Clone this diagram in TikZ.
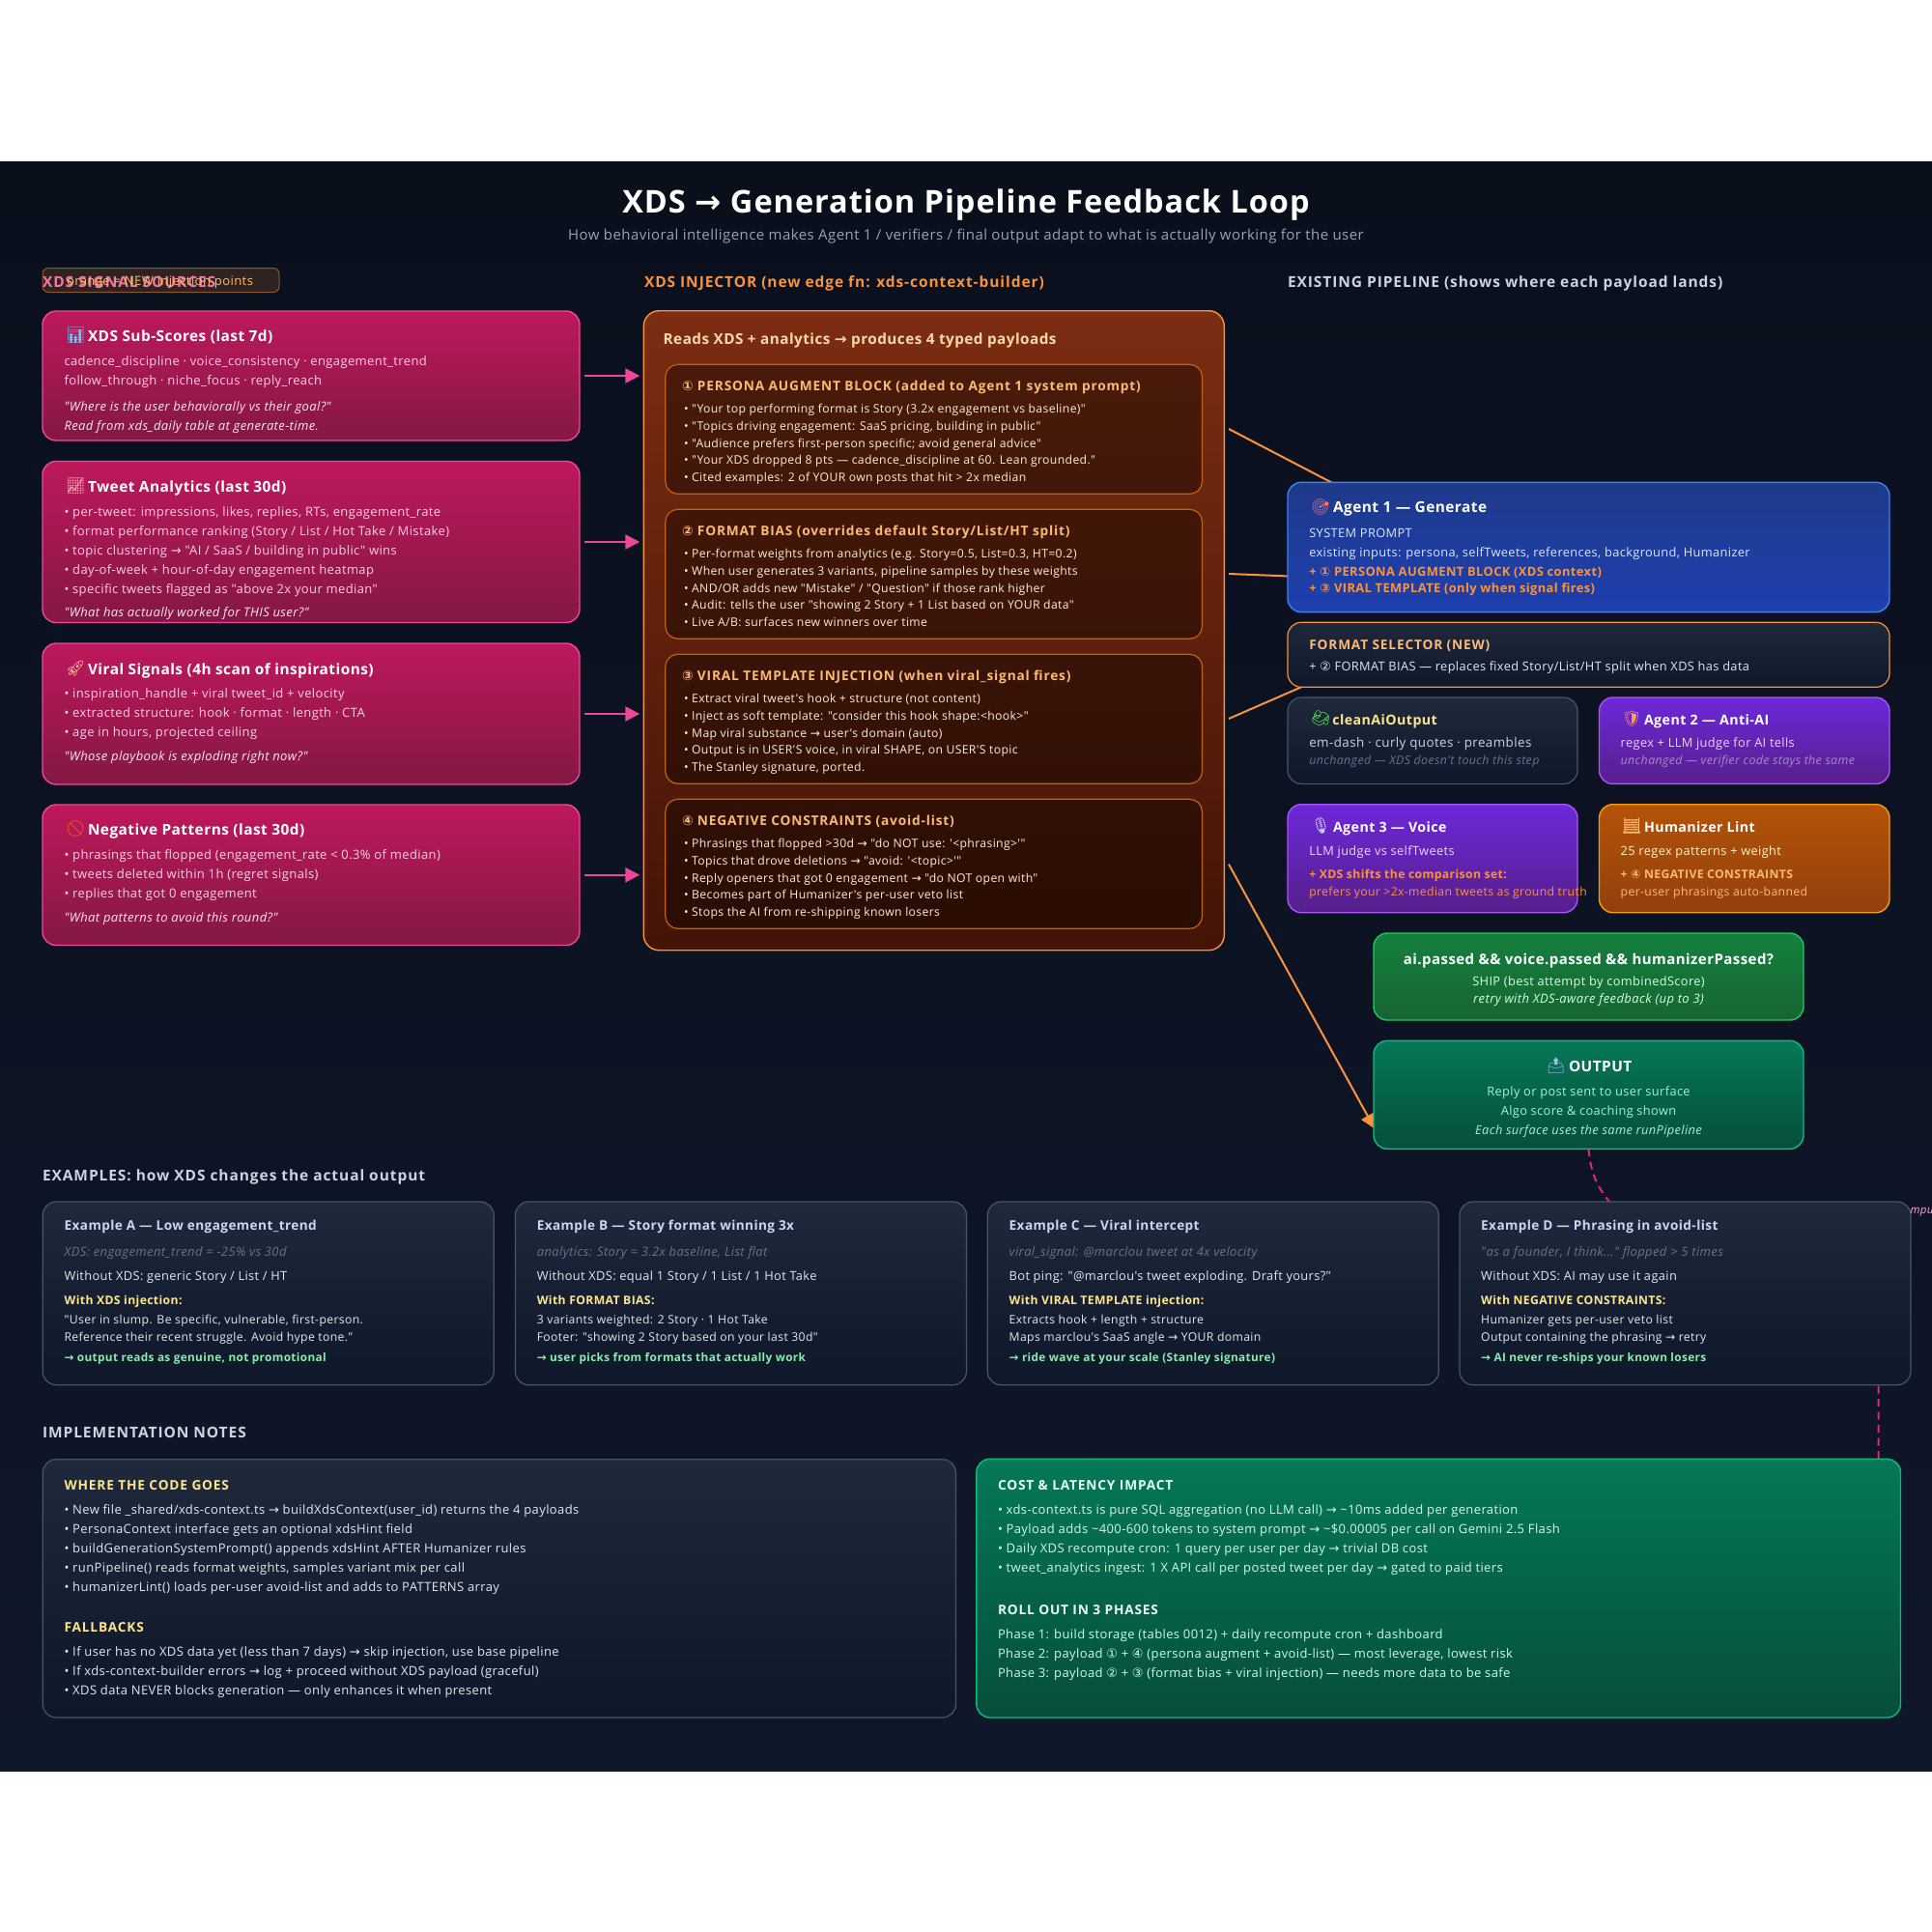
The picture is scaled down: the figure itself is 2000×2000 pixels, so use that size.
\documentclass[tikz,border=0pt]{standalone}
\usepackage{fontspec}
\usetikzlibrary{calc,arrows.meta,positioning}
\newfontfamily\uifont[LetterSpace=3]{Open Sans}
\newfontfamily\trackfont[LetterSpace=6]{Open Sans}
\newfontfamily\symfont{DejaVu Sans}
\newfontfamily\emojifont{Noto Emoji}
\newcommand{\fs}[1]{\fontsize{#1}{#1}\selectfont}
\newcommand{\ra}{{\symfont →}}
\newcommand{\cn}[1]{{\symfont #1}}
\pgfdeclarelayer{canvas}
\pgfdeclarelayer{wires}
\pgfsetlayers{canvas,wires,main}

\definecolor{pageTop}{HTML}{0A0F1C}
\definecolor{pageBot}{HTML}{0F172A}
\definecolor{pinkA}{HTML}{BE185D}
\definecolor{pinkB}{HTML}{831843}
\definecolor{pinkLine}{HTML}{EC4899}
\definecolor{pinkDash}{HTML}{DB2777}
\definecolor{orangeLine}{HTML}{FB923C}
\definecolor{orangeSoft}{HTML}{FDBA74}
\definecolor{slateA}{HTML}{1E293B}
\definecolor{slateB}{HTML}{0F172A}
\definecolor{slateLine}{HTML}{475569}
\definecolor{butter}{HTML}{FDE68A}
\definecolor{mint}{HTML}{86EFAC}
\definecolor{rustA}{HTML}{7C2D12}
\definecolor{rustB}{HTML}{431407}
\definecolor{rustLine}{HTML}{C2610F}
\definecolor{violetLine}{HTML}{A855F7}
\definecolor{violetA}{HTML}{6D28D9}
\definecolor{violetB}{HTML}{561F8C}
\definecolor{blueLine}{HTML}{3B82F6}
\definecolor{blueA}{HTML}{1E3A8A}
\definecolor{blueB}{HTML}{1E40AF}
\definecolor{amberLine}{HTML}{F59E0B}
\definecolor{amberA}{HTML}{B45309}
\definecolor{amberB}{HTML}{92400E}
\definecolor{leafLine}{HTML}{22C55E}
\definecolor{leafA}{HTML}{15803D}
\definecolor{leafB}{HTML}{166534}
\definecolor{tealLine}{HTML}{10B981}
\definecolor{tealA}{HTML}{047857}
\definecolor{tealB}{HTML}{064E3B}
\definecolor{bodyLight}{HTML}{E2E8F0}
\definecolor{pinkBody}{HTML}{FBCFE8}
\definecolor{pinkNote}{HTML}{FCE7F3}
\definecolor{rustBody}{HTML}{FFEDD5}
\definecolor{rustHead}{HTML}{FED7AA}
\definecolor{slateText}{HTML}{CBD5E1}
\definecolor{exTitle}{HTML}{CBD5F5}
\definecolor{dimText}{HTML}{64748B}
\definecolor{subText}{HTML}{94A3B8}
\definecolor{blueBody}{HTML}{DBEAFE}
\definecolor{violetBody}{HTML}{E9D5FF}
\definecolor{violetNote}{HTML}{A78BC8}
\definecolor{amberBody}{HTML}{FEF3C7}
\definecolor{tealBody}{HTML}{D1FAE5}
\definecolor{tealSoft}{HTML}{A7F3D0}
\definecolor{leafBody}{HTML}{DCFCE7}
\definecolor{tealHead}{HTML}{ECFDF5}
\definecolor{pinkHead}{HTML}{F472B6}
\definecolor{pinkSoft}{HTML}{F9A8D4}

\tikzset{
  card/.style={rectangle, rounded corners=14pt, inner sep=0pt, outer sep=0pt, anchor=north west, line width=1.4pt},
  pinkbox/.style={card, draw=pinkLine, top color=pinkA, bottom color=pinkB},
  injectbox/.style={card, rounded corners=16pt, draw=orangeLine, top color=rustA, bottom color=rustB},
  innerbox/.style={card, rounded corners=13pt, draw=rustLine, line width=1.2pt, fill=black, fill opacity=.38},
  slatebox/.style={card, draw=slateLine, line width=1.2pt, top color=slateA, bottom color=slateB},
  purplebox/.style={card, draw=violetLine, top color=violetA, bottom color=violetB},
  tealbox/.style={card, draw=tealLine, top color=tealA, bottom color=tealB},
  txt/.style={anchor=mid west, inner sep=0pt, outer sep=0pt, yshift=-2.6pt, font=\uifont\fs{13}, text=bodyLight},
  small/.style={txt, font=\uifont\fs{12.8}},
  inj/.style={txt, font=\uifont\fs{12.2}, text=rustBody},
  ital/.style={txt, font=\uifont\itshape\fs{13}},
  note/.style={txt, font=\uifont\itshape\fs{12.4}},
  head/.style={txt, yshift=-.6pt, font=\uifont\bfseries\fs{15.4}, text=white},
  cardhead/.style={head, font=\uifont\bfseries\fs{14.2}},
  smallhead/.style={txt, font=\trackfont\bfseries\fs{13.7}},
  accent/.style={txt, font=\uifont\bfseries\fs{12.2}},
  section/.style={txt, yshift=-.6pt, font=\trackfont\bfseries\fs{15.5}},
  centered/.style={anchor=mid},
  icon/.style={anchor=mid west, inner sep=0pt, yshift=-2.5pt, font=\emojifont\fs{16}},
  feed/.style={pinkLine, line width=2.4pt, -{Triangle[length=15pt,width=15pt]}, shorten <=5pt, shorten >=4pt},
  payload/.style={orangeLine, line width=2pt},
}

% name, x, first y, step, style, lines
\newcommand{\stacklines}[6]{
  \foreach \lineText [count=\i from 0] in {#6} {
    \node[#5] (#1\i) at (#2,{#3+\i*#4}) {\lineText};
  }
}
% name, x, y, icon colour, icon, title
\newcommand{\headrow}[6]{
  \node[icon, text=#4] (#1icon) at (#2,#3) {#5};
  \node[head] (#1title) at (#2+23,#3) {#6};
}

\begin{document}
\begin{tikzpicture}[x=1pt,y=-1pt]
\useasboundingbox (0,0) rectangle (2000,2000);
\begin{pgfonlayer}{canvas}
\fill[white] (0,0) rectangle (2000,2000);
\fill[top color=pageTop, bottom color=pageBot] (0,167) rectangle (2000,1833);
\end{pgfonlayer}

\node[txt, centered, yshift=-7pt, font=\uifont\bfseries\fs{32.5}, text=white] (maintitle) at (1000,209) {XDS \ra{} Generation Pipeline Feedback Loop};
\node[txt, centered, font=\uifont\fs{15}, text=subText] (subtitle) at (1000,244) {How behavioral intelligence makes Agent 1 / verifiers / final output adapt to what is actually working for the user};

% column headings
\node[section, text=pinkHead] (sourcehead) at (44,292) {XDS SIGNAL SOURCES};
\node[card, rounded corners=6pt, line width=1pt, draw=orangeLine, draw opacity=.5, fill=orangeLine, fill opacity=.15, minimum width=245, minimum height=25] (legend) at (44,277.5) {};
\node[txt, font=\uifont\fs{13.1}, text=orangeSoft] (legendtext) at (69,291) {orange = NEW injection points};
\node[section, text=orangeLine] (injecthead) at (667,292) {XDS INJECTOR (new edge fn: xds-context-builder)};
\node[section, text=slateText] (pipehead) at (1333,292) {EXISTING PIPELINE (shows where each payload lands)};

% signal sources
\foreach \nm/\yy/\hh in {subscores/322/134, analytics/477.5/167, viral/666/146, negative/833/145.5}
  \node[pinkbox, minimum width=556, minimum height=\hh] (\nm) at (44,\yy) {};

\headrow{sub}{68}{348}{cyan!60!white}{📊}{XDS Sub-Scores (last 7d)}
\stacklines{subl}{66.5}{373.7}{20}{txt, text=pinkBody}{cadence\_discipline · voice\_consistency · engagement\_trend, follow\_through · niche\_focus · reply\_reach}
\stacklines{subq}{66.5}{420.3}{20}{ital, text=pinkNote}{"Where is the user behaviorally vs their goal?", Read from xds\_daily table at generate-time.}

\headrow{ana}{68}{504}{red!30!white}{📈}{Tweet Analytics (last 30d)}
\stacklines{anal}{66.5}{529.3}{20}{txt, text=pinkBody}{{• per-tweet: impressions, likes, replies, RTs, engagement\_rate}, • format performance ranking (Story / List / Hot Take / Mistake), • topic clustering \ra{} "AI / SaaS / building in public" wins, • day-of-week + hour-of-day engagement heatmap, • specific tweets flagged as "above 2x your median"}
\node[ital, text=pinkNote] (anaq) at (66.5,633.7) {"What has actually worked for THIS user?"};

\headrow{vir}{68}{692.7}{orange!40!white}{🚀}{Viral Signals (4h scan of inspirations)}
\stacklines{virl}{66.5}{718}{20}{txt, text=pinkBody}{• inspiration\_handle + viral tweet\_id + velocity, • extracted structure: hook · format · length · CTA, {• age in hours, projected ceiling}}
\node[ital, text=pinkNote] (virq) at (66.5,782.7) {"Whose playbook is exploding right now?"};

\headrow{neg}{68}{859.3}{orange!80!red}{🚫}{Negative Patterns (last 30d)}
\stacklines{negl}{66.5}{884.7}{20}{txt, text=pinkBody}{• phrasings that flopped (engagement\_rate < 0.3\% of median), • tweets deleted within 1h (regret signals), • replies that got 0 engagement}
\node[ital, text=pinkNote] (negq) at (66.5,949.3) {"What patterns to avoid this round?"};

% injector
\node[injectbox, minimum width=601, minimum height=662] (injector) at (666.3,321.7) {};
\node[head, font=\uifont\bfseries\fs{15.3}, text=rustHead] (injectsub) at (686.7,350.7) {Reads XDS + analytics \ra{} produces 4 typed payloads};
\foreach \s/\yy in {1/377.3, 2/527.3, 3/677.3, 4/827.3}
  \node[innerbox, minimum width=555.7, minimum height=134] (payload\s) at (688.8,\yy) {};

\node[smallhead, text=orangeSoft] (p1title) at (706,400) {\cn{①} PERSONA AUGMENT BLOCK (added to Agent 1 system prompt)};
\stacklines{p1l}{708}{422.7}{17.8}{inj}{• "Your top performing format is Story (3.2x engagement vs baseline)", {• "Topics driving engagement: SaaS pricing, building in public"}, • "Audience prefers first-person specific; avoid general advice", • "Your XDS dropped 8 pts — cadence\_discipline at 60. Lean grounded.", • Cited examples: 2 of YOUR own posts that hit > 2x median}

\node[smallhead, text=orangeSoft] (p2title) at (706,550) {\cn{②} FORMAT BIAS (overrides default Story/List/HT split)};
\stacklines{p2l}{708}{572.7}{17.8}{inj}{{• Per-format weights from analytics (e.g. Story=0.5, List=0.3, HT=0.2)}, {• When user generates 3 variants, pipeline samples by these weights}, • AND/OR adds new "Mistake" / "Question" if those rank higher, • Audit: tells the user "showing 2 Story + 1 List based on YOUR data", • Live A/B: surfaces new winners over time}

\node[smallhead, text=orangeSoft] (p3title) at (706,700) {\cn{③} VIRAL TEMPLATE INJECTION (when viral\_signal fires)};
\stacklines{p3l}{708}{722.7}{17.8}{inj}{• Extract viral tweet's hook + structure (not content), • Inject as soft template: "consider this hook shape:<hook>", • Map viral substance \ra{} user's domain (auto), {• Output is in USER'S voice, in viral SHAPE, on USER'S topic}, {• The Stanley signature, ported.}}

\node[smallhead, text=orangeSoft] (p4title) at (706,850) {\cn{④} NEGATIVE CONSTRAINTS (avoid-list)};
\stacklines{p4l}{708}{872.7}{17.8}{inj}{• Phrasings that flopped >30d \ra{} "do NOT use: '<phrasing>'", • Topics that drove deletions \ra{} "avoid: '<topic>'", • Reply openers that got 0 engagement \ra{} "do NOT open with", • Becomes part of Humanizer's per-user veto list, • Stops the AI from re-shipping known losers}

% pipeline
\node[card, draw=blueLine, top color=blueA, bottom color=blueB, minimum width=623, minimum height=134.3] (agent1) at (1333,499.3) {};
\node[slatebox, draw=orangeLine, minimum width=623, minimum height=67] (selector) at (1333,644.3) {};
\node[slatebox, minimum width=300, minimum height=89.4] (cleanai) at (1333,722) {};
\node[purplebox, minimum width=300.5, minimum height=89.4] (agent2) at (1655.5,722) {};
\node[purplebox, minimum width=300, minimum height=112] (agent3) at (1333,832.7) {};
\node[card, draw=amberLine, top color=amberA, bottom color=amberB, minimum width=300.5, minimum height=112] (humanizer) at (1655.5,832.7) {};
\node[card, draw=leafLine, top color=leafA, bottom color=leafB, minimum width=445, minimum height=90] (gate) at (1422,966) {};
\node[tealbox, minimum width=445, minimum height=112] (output) at (1422,1077.3) {};

\headrow{ag1}{1357}{525.6}{red!55!white}{🎯}{Agent 1 — Generate}
\stacklines{ag1l}{1355.3}{551.3}{20}{small, text=blueBody}{SYSTEM PROMPT, {existing inputs: persona, selfTweets, references, background, Humanizer}}
\node[accent, font=\uifont\bfseries\fs{12.9}, text=orangeLine] (ag1a) at (1355.3,591.3) {+ \cn{①} PERSONA AUGMENT BLOCK (XDS context)};
\node[accent, font=\uifont\bfseries\fs{12.9}, text=orangeLine] (ag1b) at (1355.3,608.8) {+ \cn{③} VIRAL TEMPLATE (only when signal fires)};

\node[smallhead, text=orangeSoft] (seltitle) at (1355.3,667.3) {FORMAT SELECTOR (NEW)};
\node[small, text=bodyLight] (selline) at (1355.3,689.8) {+ \cn{②} FORMAT BIAS — replaces fixed Story/List/HT split when XDS has data};

\node[icon, text=green!60!white] (cleanicon) at (1357,744.8) {🧼};
\node[cardhead, text=butter] (cleantitle) at (1379.4,744.8) {cleanAiOutput};
\node[txt, font=\uifont\fs{13.4}, text=slateText] (cleanline) at (1355.3,769) {em-dash · curly quotes · preambles};
\node[note, text=dimText] (cleannote) at (1355.3,787) {unchanged — XDS doesn't touch this step};

\node[icon, text=orange!70!white] (ag2icon) at (1679,744.8) {🛡};
\node[cardhead] (ag2title) at (1702,744.8) {Agent 2 — Anti-AI};
\node[small, text=violetBody] (ag2line) at (1677.7,769) {regex + LLM judge for AI tells};
\node[note, text=violetNote] (ag2note) at (1677.7,787) {unchanged — verifier code stays the same};

\node[icon, text=slateText] (ag3icon) at (1357,856.3) {🎙};
\node[cardhead] (ag3title) at (1380,856.3) {Agent 3 — Voice};
\node[small, text=violetBody] (ag3line) at (1355.3,880.3) {LLM judge vs selfTweets};
\node[accent, text=orangeLine] (ag3a) at (1355.3,905) {+ XDS shifts the comparison set:};
\node[inj, text=orangeLine] (ag3b) at (1355.3,923) {prefers your >2x-median tweets as ground truth};

\node[icon, text=orangeSoft] (humicon) at (1679,856.3) {🧮};
\node[cardhead] (humtitle) at (1702,856.3) {Humanizer Lint};
\node[small, text=amberBody] (humline) at (1677.7,880.3) {25 regex patterns + weight};
\node[accent, text=orangeSoft] (huma) at (1677.7,905) {+ \cn{④} NEGATIVE CONSTRAINTS};
\node[inj, text=orangeSoft] (humb) at (1677.7,923) {per-user phrasings auto-banned};

\node[head, centered, font=\uifont\bfseries\fs{15}] (gatetitle) at (1644.5,992.7) {ai.passed \&\& voice.passed \&\& humanizerPassed?};
\node[small, centered, text=leafBody] (gateline) at (1644.5,1015.7) {SHIP (best attempt by combinedScore)};
\node[ital, centered, text=leafBody] (gatenote) at (1644.5,1033.7) {retry with XDS-aware feedback (up to 3)};

\node[icon, text=blue!30!white] (outicon) at (1600.5,1103.7) {📤};
\node[head] (outtitle) at (1624,1103.7) {OUTPUT};
\node[small, centered, text=tealSoft] (outa) at (1644.5,1129.3) {Reply or post sent to user surface};
\node[small, centered, text=tealSoft] (outb) at (1644.5,1149.3) {Algo score \& coaching shown};
\node[ital, centered, font=\uifont\itshape\fs{12.8}, text=tealSoft] (outc) at (1644.5,1169.3) {Each surface uses the same runPipeline};

% examples
\node[section, text=slateText] (examplehead) at (44,1216.7) {EXAMPLES: how XDS changes the actual output};
\foreach \nm/\xx in {exA/44.2, exB/533.4, exC/1022.3, exD/1511}
  \node[slatebox, minimum width=467, minimum height=189.7] (\nm) at (\xx,1244) {};

\foreach \nm/\xx/\a/\b/\c/\d/\e/\f/\g in {
  A/66.6/{Example A — Low engagement\_trend}/{XDS: engagement\_trend = -25\% vs 30d}/{Without XDS: generic Story / List / HT}/{With XDS injection:}/{"User in slump. Be specific, vulnerable, first-person.}/{Reference their recent struggle. Avoid hype tone."}/{\ra{} output reads as genuine, not promotional},
  B/555.8/{Example B — Story format winning 3x}/{analytics: Story = 3.2x baseline, List flat}/{Without XDS: equal 1 Story / 1 List / 1 Hot Take}/{With FORMAT BIAS:}/{3 variants weighted: 2 Story · 1 Hot Take}/{Footer: "showing 2 Story based on your last 30d"}/{\ra{} user picks from formats that actually work},
  C/1044.7/{Example C — Viral intercept}/{viral\_signal: @marclou tweet at 4x velocity}/{Bot ping: "@marclou's tweet exploding. Draft yours?"}/{With VIRAL TEMPLATE injection:}/{Extracts hook + length + structure}/{Maps marclou's SaaS angle \ra{} YOUR domain}/{\ra{} ride wave at your scale (Stanley signature)},
  D/1533.2/{Example D — Phrasing in avoid-list}/{"as a founder, I think..." flopped > 5 times}/{Without XDS: AI may use it again}/{With NEGATIVE CONSTRAINTS:}/{Humanizer gets per-user veto list}/{Output containing the phrasing \ra{} retry}/{\ra{} AI never re-ships your known losers}} {
  \node[accent, font=\uifont\bfseries\fs{13.6}, text=exTitle] (ex\nm title) at (\xx,1268.7) {\a};
  \node[ital, text=dimText] (ex\nm data) at (\xx,1296) {\b};
  \node[small, text=bodyLight] (ex\nm base) at (\xx,1320.3) {\c};
  \node[accent, text=butter] (ex\nm with) at (\xx,1345.7) {\d};
  \node[inj, text=bodyLight] (ex\nm one) at (\xx,1366) {\e};
  \node[inj, text=bodyLight] (ex\nm two) at (\xx,1383.7) {\f};
  \node[accent, font=\uifont\bfseries\fs{11.8}, text=mint] (ex\nm end) at (\xx,1405) {\g};
}

% implementation notes
\node[section, text=slateText] (implhead) at (44,1483.3) {IMPLEMENTATION NOTES};
\node[slatebox, minimum width=945.3, minimum height=267.3] (notes) at (44.2,1510.7) {};
\node[tealbox, minimum width=956.7, minimum height=267.7] (cost) at (1010.8,1510.3) {};

\node[smallhead, text=butter] (wheretitle) at (66.6,1537.3) {WHERE THE CODE GOES};
\stacklines{wherel}{66.6}{1562.7}{20}{txt, text=bodyLight}{• New file \_shared/xds-context.ts \ra{} buildXdsContext(user\_id) returns the 4 payloads, • PersonaContext interface gets an optional xdsHint field, • buildGenerationSystemPrompt() appends xdsHint AFTER Humanizer rules, {• runPipeline() reads format weights, samples variant mix per call}, • humanizerLint() loads per-user avoid-list and adds to PATTERNS array}
\node[smallhead, text=butter] (falltitle) at (66.6,1684.3) {FALLBACKS};
\stacklines{falll}{66.6}{1709.3}{20}{txt, text=bodyLight}{{• If user has no XDS data yet (less than 7 days) \ra{} skip injection, use base pipeline}, • If xds-context-builder errors \ra{} log + proceed without XDS payload (graceful), • XDS data NEVER blocks generation — only enhances it when present}

\node[smallhead, text=tealHead] (costtitle) at (1033,1537.3) {COST \& LATENCY IMPACT};
\stacklines{costl}{1033}{1562.7}{20}{txt, text=tealBody}{• xds-context.ts is pure SQL aggregation (no LLM call) \ra{} \textasciitilde10ms added per generation, • Payload adds \textasciitilde400-600 tokens to system prompt \ra{} \textasciitilde\$0.00005 per call on Gemini 2.5 Flash, • Daily XDS recompute cron: 1 query per user per day \ra{} trivial DB cost, • tweet\_analytics ingest: 1 X API call per posted tweet per day \ra{} gated to paid tiers}
\node[smallhead, text=tealHead] (rolltitle) at (1033,1666.3) {ROLL OUT IN 3 PHASES};
\stacklines{rolll}{1033}{1691.3}{20}{txt, text=tealBody}{Phase 1: build storage (tables 0012) + daily recompute cron + dashboard, {Phase 2: payload \cn{①} + \cn{④} (persona augment + avoid-list) — most leverage, lowest risk}, Phase 3: payload \cn{②} + \cn{③} (format bias + viral injection) — needs more data to be safe}

\node[note, font=\uifont\itshape\fs{11.5}, text=pinkSoft] (looplabel) at (1977.5,1252) {mpu};

% connectors sit under the boxes
\coordinate (out1) at (1272,444);
\coordinate (out2) at (1272,594);
\coordinate (out3) at (1272,744);
\coordinate (out4) at (1272,894.7);
\coordinate (loopbend) at (1682,1262);
\coordinate (loopdrop) at (1944.6,1420);
\begin{pgfonlayer}{wires}
\foreach \nm in {subscores, analytics, viral, negative}
  \draw[feed] (\nm.east) -- (\nm.east -| injector.west);
\draw[payload] (out1) -- ($(agent1.north west)+(47,1)$);
\draw[payload] (out2) -- ($(agent1.west)+(1,30)$);
\draw[payload] (out3) -- ($(selector.south west)+(14,0)$);
\draw[payload, -{Triangle[length=15pt,width=15pt]}] (out4) -- ($(output.south west)+(1,-21)$);
\draw[pinkDash, line width=2pt, dash pattern=on 8pt off 5.5pt] (output.south) .. controls +(3,34) and (1658,1236) .. (loopbend) -- (loopdrop) -- (loopdrop |- cost.north);
\end{pgfonlayer}
\end{tikzpicture}
\end{document}
